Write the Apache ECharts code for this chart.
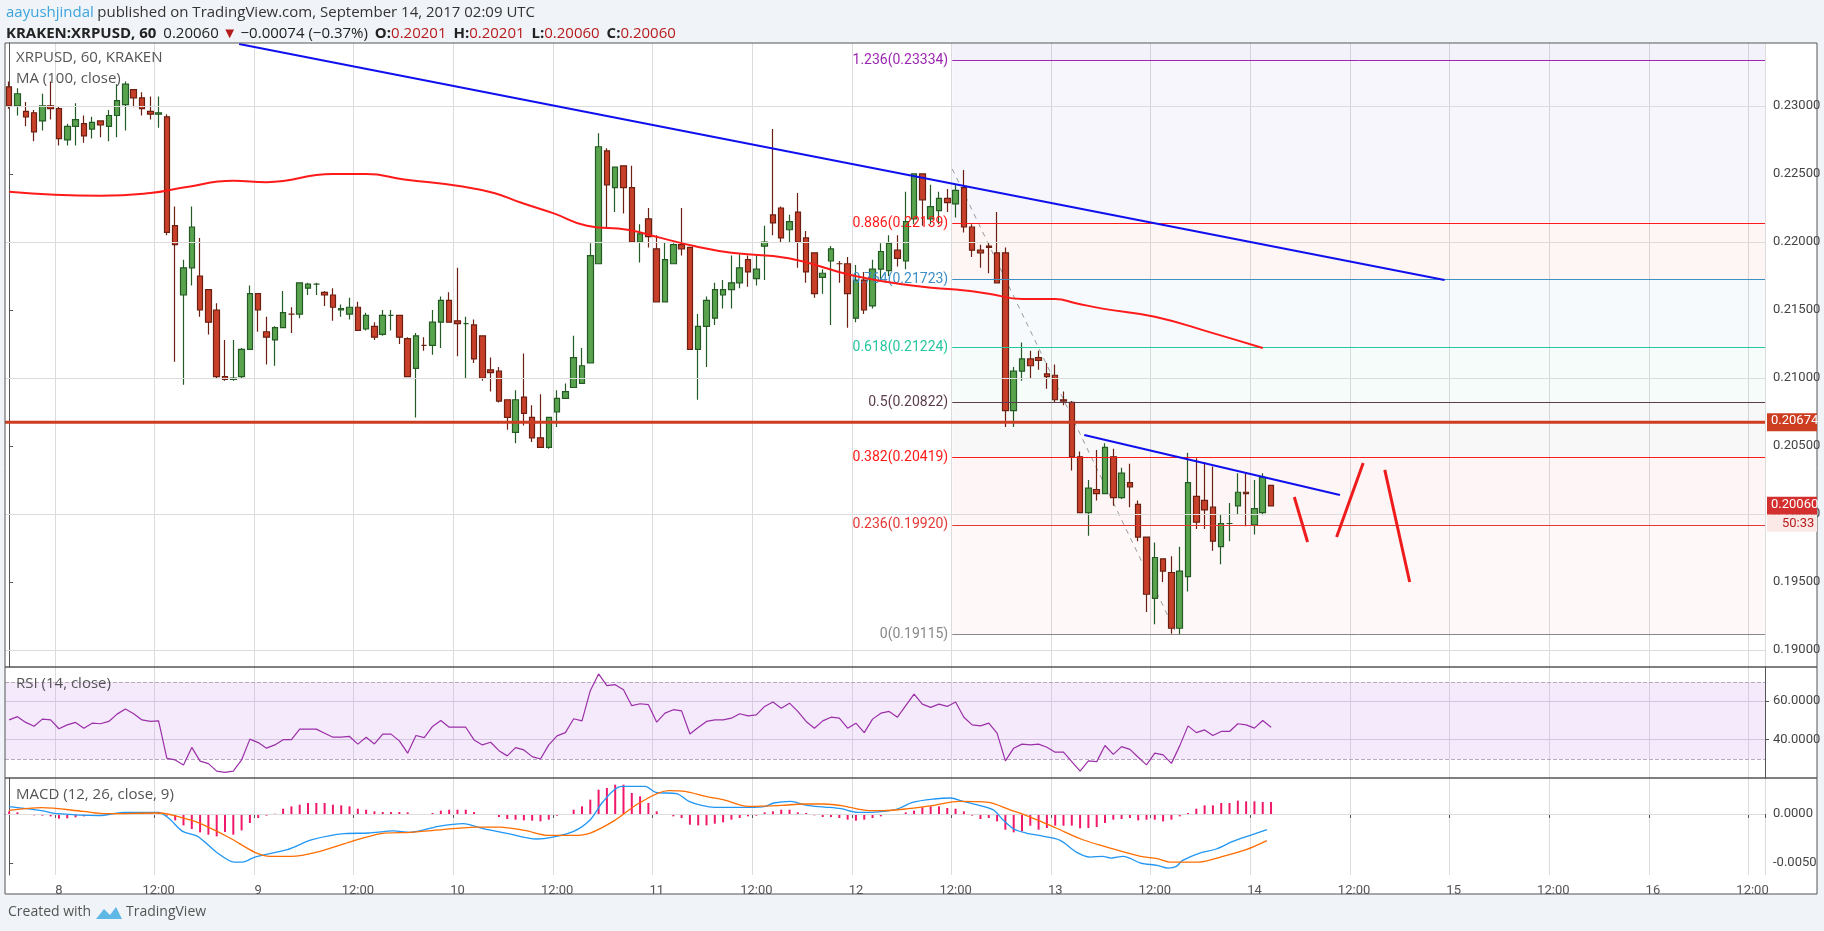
<!DOCTYPE html>
<html><head><meta charset="utf-8">
<script src="https://cdn.jsdelivr.net/npm/echarts@6/dist/echarts.min.js"></script>
<style>html,body{margin:0;padding:0;background:#f0f3f7}#c{width:1824px;height:931px}</style>
</head><body><div id="c"></div>
<script>
// ---- DATA ----
const startDay = 7, startHour = 18, hourCount = 212;
// candles: [open, close, low, high] hourly from Sep 7 18:00
const candles = [
[.2314,.2300,.2298,.2318],[.2300,.2309,.2293,.2313],[.2296,.2292,.2285,.2303],[.2295,.2281,.2274,.2297],[.2289,.2300,.2282,.2309],
[.2300,.2298,.2290,.2318],[.2298,.2276,.2271,.2300],[.2275,.2285,.2271,.2287],[.2285,.2290,.2271,.2302],[.2287,.2278,.2273,.2293],
[.2283,.2288,.2276,.2292],[.2289,.2286,.2277,.2289],[.2285,.2293,.2274,.2297],[.2293,.2304,.2277,.2316],[.2301,.2316,.2282,.2318],
[.2312,.2306,.2299,.2312],[.2306,.2298,.2293,.2310],[.2296,.2294,.2290,.2307],[.2294,.2295,.2284,.2307],[.2292,.2207,.2205,.2294],
[.2212,.2198,.2112,.2226],[.2161,.2181,.2095,.2187],[.2181,.2211,.2168,.2226],[.2175,.2150,.2145,.2203],[.2165,.2141,.2132,.2165],
[.2150,.2101,.2100,.2155],[.2101,.2099,.2098,.2128],[.2099,.2100,.2098,.2128],[.2101,.2121,.2100,.2122],[.2121,.2162,.2121,.2168],
[.2162,.2150,.2134,.2162],[.2134,.2130,.2110,.2145],[.2128,.2137,.2109,.2138],[.2137,.2148,.2137,.2164],[.2147,.2147,.2133,.2152],
[.2147,.2170,.2144,.2170],[.2166,.2169,.2161,.2170],[.2169,.2169,.2161,.2170],[.2163,.2161,.2153,.2164],[.2161,.2152,.2142,.2166],
[.2150,.2151,.2145,.2154],[.2147,.2152,.2143,.2159],[.2152,.2135,.2135,.2156],[.2136,.2146,.2135,.2148],[.2138,.2130,.2128,.2141],
[.2132,.2146,.2131,.2150],[.2146,.2146,.2135,.2150],[.2146,.2130,.2125,.2146],[.2129,.2101,.2101,.2130],[.2107,.2131,.2071,.2133],
[.2124,.2124,.2120,.2130],[.2124,.2141,.2117,.2150],[.2141,.2157,.2122,.2160],[.2157,.2141,.2141,.2163],[.2142,.2140,.2116,.2181],
[.2140,.2140,.2100,.2145],[.2139,.2114,.2111,.2143],[.2131,.2100,.2098,.2131],[.2106,.2104,.2090,.2115],[.2105,.2083,.2082,.2108],
[.2084,.2071,.2062,.2084],[.2060,.2084,.2052,.2091],[.2086,.2074,.2065,.2118],[.2071,.2056,.2053,.2080],[.2056,.2049,.2049,.2088],
[.2049,.2071,.2048,.2071],[.2075,.2085,.2064,.2091],[.2085,.2090,.2085,.2096],[.2093,.2115,.2093,.2131],[.2096,.2109,.2096,.2122],
[.2111,.2190,.2111,.2199],[.2184,.2270,.2184,.2280],[.2267,.2242,.2210,.2269],[.2240,.2255,.2222,.2255],[.2256,.2240,.2221,.2256],
[.2240,.2200,.2200,.2256],[.2200,.2206,.2185,.2213],[.2217,.2204,.2196,.2225],[.2195,.2156,.2156,.2205],[.2156,.2187,.2156,.2200],
[.2184,.2198,.2184,.2199],[.2198,.2195,.2190,.2225],[.2196,.2121,.2121,.2196],[.2121,.2138,.2084,.2147],[.2138,.2157,.2108,.2160],
[.2144,.2165,.2139,.2170],[.2161,.2165,.2151,.2172],[.2165,.2170,.2151,.2190],[.2170,.2181,.2166,.2191],[.2187,.2178,.2167,.2190],
[.2173,.2180,.2168,.2190],[.2197,.2200,.2172,.2212],[.2220,.2214,.2205,.2283],[.2225,.2203,.2200,.2226],[.2209,.2215,.2200,.2220],
[.2222,.2200,.2181,.2236],[.2203,.2178,.2170,.2208],[.2192,.2162,.2159,.2192],[.2174,.2177,.2162,.2180],[.2186,.2195,.2139,.2197],
[.2184,.2184,.2170,.2186],[.2184,.2162,.2137,.2189],[.2144,.2172,.2141,.2183],[.2172,.2150,.2147,.2178],[.2153,.2180,.2151,.2187],
[.2180,.2193,.2172,.2199],[.2179,.2199,.2175,.2205],[.2194,.2188,.2182,.2205],[.2186,.2215,.2180,.2237],[.2217,.2250,.2213,.2250],
[.2250,.2231,.2212,.2250],[.2217,.2226,.2213,.2242],[.2223,.2232,.2213,.2237],[.2232,.2229,.2222,.2239],[.2228,.2238,.2218,.2242],
[.2240,.2211,.2207,.2253],[.2211,.2194,.2189,.2213],[.2194,.2192,.2181,.2198],[.2197,.2196,.2177,.2200],[.2192,.2170,.2170,.2222],
[.2192,.2076,.2064,.2196],[.2076,.2105,.2064,.2108],[.2105,.2114,.2098,.2126],[.2114,.2109,.2100,.2120],[.2115,.2113,.2106,.2120],
[.2103,.2101,.2092,.2111],[.2102,.2084,.2082,.2110],[.2084,.2083,.2080,.2090],[.2082,.2042,.2032,.2083],[.2042,.2001,.2001,.2046],
[.2001,.2019,.1984,.2025],[.2018,.2015,.2010,.2047],[.2015,.2049,.2015,.2052],[.2042,.2012,.2006,.2048],[.2012,.2030,.2011,.2034],
[.2023,.2020,.2005,.2037],[.2007,.1983,.1980,.2010],[.1983,.1941,.1928,.1983],[.1938,.1968,.1919,.1979],[.1967,.1958,.1950,.1967],
[.1957,.1916,.1912,.1969],[.1916,.1958,.1911,.1976],[.1954,.2023,.1943,.2045],[.2013,.1994,.1989,.2041],[.2010,.2003,.1989,.2038],
[.2005,.1980,.1973,.2035],[.1976,.1993,.1963,.2000],[.1993,.1993,.1980,.2008],[.2006,.2016,.2000,.2030],[.2016,.2015,.1991,.2030],
[.1992,.2004,.1985,.2025],[.2001,.2027,.1999,.2030],[.2021,.2006,.2006,.2021]
];
// MA(100) read points [hourIndex, value]
const maPoints = [[0,.2237],[11,.2234],[17,.2236],[21,.2240],[27,.2245],[31,.2244],[39,.2250],[43,.2250],[47.6,.2246],[54.4,.2241],[58.4,.2236],[61.6,.2229],[65.6,.2221],[69.6,.2212],[74.5,.2209],[78.5,.2203],[82.5,.2197],[87,.2192],[93.9,.2188],[101.9,.2175],[110,.2167],[114,.2165],[118,.2162],[122,.2158],[126,.2158],[128.5,.2155],[131.7,.2151],[138,.2145],[145,.2133],[151,.2122]];
const rsi = [50.3,52,49,47,50.7,50.3,45.7,47.7,49,46,48.6,48.3,49.5,53.3,56,53.5,50.3,49.5,49.8,30.3,29.5,26.9,36,28.9,27.6,23.7,23,23.7,29.5,40.3,38.5,35.6,37.3,40,40,45.5,45.5,45.5,43.4,41.3,41.3,41.7,37.7,41.3,37.8,42.9,42.9,39.4,33,42.2,41.1,46.9,50,46.5,46.5,46.5,39.9,37.3,38.7,34.3,31.6,35.9,34.7,31.2,30,37.3,42,43.7,50.9,49.8,65.5,74.2,68.1,68.6,66,
57.7,58.7,58.2,49.1,53.8,55.6,55,43,46.3,49.5,50.3,50.3,51.2,53.5,52.4,52.9,57.3,59.6,56.4,59,54.7,49.5,46,49.8,51.7,51.2,46,48.6,43.7,50.7,53.8,54.7,51.7,57.7,63.7,58.5,56.8,58.5,57.3,59.6,51.7,47.7,47.2,48.6,43.4,29,35.6,37.7,37.3,37.7,36.1,33.5,33.5,28.6,23.7,29,28.6,37,32.4,36.4,35,30.9,26.9,33,32.1,27.7,36.8,47.2,43.7,45.1,42.2,44.3,44.3,48.3,47.7,46,50,46.5];
const macdPoints = [[0,.00075],[3.9,.00034],[5.9,.00003],[10.8,-.00017],[13.8,.00017],[18,.00017],[19.2,-.00041],[20.9,-.00177],[22.7,-.00228],[25.1,-.00398],[27.1,-.0049],[28.1,-.0049],[29.6,-.00439],[33.5,-.00364],[36.5,-.00262],[40.4,-.002],[43.3,-.00194],[46.3,-.00173],[48.3,-.00187],[51.7,-.00126],[54.7,-.00099],[57.1,-.0015],[60.1,-.002],[63.5,-.00255],[65.5,-.00235],[68,-.00177],[70,-.00058],[71.4,.00112],[72.9,.00248],[73.8,.00282],[76.6,.00282],[77.9,.00221],[80.4,.00207],[81.9,.00129],[83.4,.00088],[85,.00068],[89,.00068],[91.1,.00078],[92.1,.00112],[94.1,.00129],[96.1,.00088],[98.2,.00071],[100.2,.00054],[102.2,.00017],[104.3,.0002],[106.3,.00037],[107.3,.00061],[108.8,.00119],[111.4,.00153],[113.4,.00163],[114.9,.00129],[116.5,.00095],[118.5,.00044],[119.7,-.00058],[121,-.00153],[122.5,-.00194],[124.6,-.00228],[126.6,-.00269],[128.6,-.00391],[130.2,-.00439],[131.7,-.00432],[132.7,-.00449],[134.2,-.00432],[136.3,-.005],[138.3,-.00524],[139.6,-.00551],[140.6,-.00534],[141.3,-.00476],[143.4,-.00398],[145.4,-.00357],[147.4,-.00279],[149.5,-.00218],[151.5,-.0016]];
const signalPoints = [[0,.00037],[3.9,.00065],[8.9,.00027],[11.8,.00003],[18,.0001],[21.7,-.00058],[23.6,-.00119],[26.6,-.00245],[29.6,-.00391],[31.5,-.00432],[34,-.00432],[37.4,-.00381],[40.9,-.00289],[44.8,-.002],[48.3,-.00187],[52.2,-.0016],[56.2,-.00133],[59.1,-.00133],[62.1,-.00167],[65,-.00218],[68,-.00218],[70,-.00194],[72.9,-.00068],[75.9,.00112],[79.4,.00238],[81.4,.00231],[83.9,.0018],[86,.00146],[89,.00078],[93.1,.00088],[95.6,.00102],[98.2,.00102],[100.7,.00078],[103.3,.00037],[105.3,.00034],[108.3,.00054],[111.4,.00088],[114.4,.00129],[118,.00119],[120.5,.00044],[123,-.00031],[126.1,-.00143],[129.1,-.00255],[131.2,-.00313],[133.7,-.00374],[136.3,-.00432],[138.3,-.00456],[139.8,-.0049],[143.4,-.0049],[145.9,-.00439],[149,-.00364],[151.5,-.00272]];
const hist = [.00027,.00017,-.00007,-.00014,-.00017,-.00024,-.00048,-.00044,-.00034,-.00024,-.00014,-.00007,0,.00003,.00017,.00017,.00017,.00017,.0001,-.00017,-.00065,-.00116,-.00153,-.00187,-.00211,-.00228,-.00184,-.00211,-.00167,-.00092,-.00041,-.00017,.00003,.00054,.00078,.00095,.00112,.00112,.00112,.00095,.00088,.00078,.00054,.00044,.00027,.0002,.0002,.0002,.00017,0,0,.0001,.00034,.00044,.00044,.00044,.0002,0,-.00007,-.00031,-.00051,-.00058,-.00065,-.00068,-.00075,-.00058,-.00017,0,.00044,.00078,.00146,.00248,.00265,.00299,.00299,
.00214,.0018,.00112,.00027,-.00007,-.00024,-.00041,-.00109,-.00116,-.00116,-.00099,-.00085,-.00058,-.00041,-.00024,-.00017,.00017,.00027,.00044,.00044,.00017,.0001,-.00014,-.00031,-.00031,-.00041,-.00058,-.00068,-.00058,-.00041,-.00024,-.00007,-.00007,.00017,.00034,.00068,.00078,.00078,.00061,.00054,.00027,-.00017,-.00051,-.00041,-.00075,-.0016,-.00187,-.00177,-.00119,-.0016,-.00143,-.00119,-.00119,-.00119,-.00146,-.00143,-.00133,-.00092,-.00058,-.00051,-.00041,-.00065,-.00058,-.00058,-.00075,-.00058,-.00024,.0001,.00054,.00088,.00088,.00112,.00112,.00136,.00129,.00129,.00122,.00122];
const fibStart = 113.6;
const fibLevels = [['1.236',.23334,'#9c27b0'],['0.886',.22139,'#ff1a1a'],['0.764',.21723,'#3d8fc6'],['0.618',.21224,'#26c6a0'],['0.5',.20822,'#5d3d4d'],['0.382',.20419,'#ff1a1a'],['0.236',.19920,'#e53935'],['0',.19115,'#888888']];
const fibFills = ['rgba(120,100,200,0.06)','rgba(240,80,80,0.06)','rgba(80,160,210,0.05)','rgba(60,200,160,0.05)','rgba(120,120,120,0.05)','rgba(240,80,80,0.05)','rgba(240,80,80,0.04)'];
const supportLevel = 0.20674;
const lastPrice = 0.20060;
const trendMain = [[27.7,.23456],[172.9,.21721]];
const trendMinor = [[129.5,.20581],[160.3,.2014]];
const fibDiagonal = [[113.6,.22537],[140.4,.19147]];
const handLines = [[[154.8,.20125],[156.4,.19794]],[[159.9,.19831],[163.1,.20375]],[[165.7,.20324],[168.7,.19500]]];
const priceTicks = [0.19,0.195,0.20,0.205,0.21,0.215,0.22,0.225,0.23];

// ---- CHART ----
const cats = [];
for (let i=0;i<hourCount;i++) cats.push(i);
const isTick = i => (startHour+i)%12===0;
const lbl = i => { const h=(startHour+i)%24; const d=startDay+Math.floor((startHour+i)/24); return h===0? String(d): (h===12?'12:00':''); };
const gridLine = {show:true, interval:(i)=>isTick(i), lineStyle:{color:'#dcdcdc',width:1}};
const L=5, R=1824-1765;
const catAxis = (g, showLabels) => ({type:'category', gridIndex:g, data:cats, boundaryGap:true,
  axisLine:{show:showLabels, lineStyle:{color:'#555'}}, axisTick:{show:showLabels, interval:(i)=>isTick(i), length:4, lineStyle:{color:'#555'}},
  axisLabel:{show:showLabels, interval:(i)=>isTick(i), formatter:(v)=>lbl(+v), color:'#555', fontSize:13, fontFamily:'Roboto', margin:9},
  splitLine:gridLine});
const valX = g => ({type:'value', gridIndex:g, min:-0.5, max:hourCount-0.5, show:false});

const hLines = (vals, color, type) => vals.map(v=>({yAxis:v, lineStyle:{color:color, type:type||'solid', width:1}}));

const fibMark = fibLevels.map(([k,v,c])=>[{coord:[fibStart,v], lineStyle:{color:c,width:1,type:'solid'},
  label:{show:true, position:'start', formatter:k+'('+v.toFixed(5)+')', color:c, fontSize:14, fontFamily:'Roboto', distance:4}},{coord:[hourCount-0.5,v]}]);
const fibArea = [];
for (let i=0;i<fibLevels.length-1;i++) fibArea.push([{coord:[fibStart,fibLevels[i][1]], itemStyle:{color:fibFills[i]}},{coord:[hourCount-0.5,fibLevels[i+1][1]]}]);
fibArea.unshift([{coord:[fibStart,0.2346], itemStyle:{color:'rgba(120,100,200,0.09)'}},{coord:[hourCount-0.5,fibLevels[0][1]]}]);

const lineSeries = (pts, color, w, x, y, extra) => Object.assign({type:'line', xAxisIndex:x, yAxisIndex:y, data:pts, symbol:'none', silent:true,
  lineStyle:{color:color, width:w}, z:6}, extra||{});

const option = {
  backgroundColor:'#f0f3f7', animation:false,
  textStyle:{fontFamily:'Roboto'},
  grid:[
    {left:L, right:R, top:43, height:624, show:true, backgroundColor:'#fff', borderWidth:0},
    {left:L, right:R, top:667, height:111, show:true, backgroundColor:'#fff', borderWidth:0},
    {left:L, right:R, top:778, height:97, show:true, backgroundColor:'#fff', borderWidth:0}
  ],
  xAxis:[catAxis(0,false), valX(0), catAxis(1,false), catAxis(2,true), valX(2)],
  yAxis:[
    {type:'value', gridIndex:0, position:'right', min:0.18875, max:0.23463, splitLine:{show:false},
     axisLine:{show:true, lineStyle:{color:'#555'}}, axisTick:{show:true, length:4, customValues:priceTicks},
     axisLabel:{customValues:priceTicks, formatter:v=>v.toFixed(5), color:'#444', fontSize:13, margin:8}},
    {type:'value', gridIndex:1, position:'right', min:20.1, max:77.8, splitLine:{show:false},
     axisLine:{show:true, lineStyle:{color:'#555'}}, axisTick:{show:true, length:4, customValues:[40,60]},
     axisLabel:{customValues:[40,60], formatter:v=>v.toFixed(4), color:'#444', fontSize:13, margin:8}},
    {type:'value', gridIndex:2, position:'right', min:-0.00622, max:0.00367, splitLine:{show:false},
     axisLine:{show:true, lineStyle:{color:'#555'}}, axisTick:{show:true, length:4, customValues:[-0.005,0]},
     axisLabel:{customValues:[-0.005,0], formatter:v=>v.toFixed(4), color:'#444', fontSize:13, margin:8}}
  ],
  series:[
    {type:'line', xAxisIndex:1, yAxisIndex:0, data:[], z:0, silent:true,
     markLine:{silent:true, symbol:'none', animation:false, label:{show:false}, data:hLines(priceTicks,'#dcdcdc')}},
    {type:'line', xAxisIndex:1, yAxisIndex:0, data:fibDiagonal, z:1, symbol:'none', silent:true,
     lineStyle:{color:'#9a9a9a', type:[5,5], width:1},
     markArea:{silent:true, data:fibArea},
     markLine:{silent:true, symbol:'none', animation:false, lineStyle:{type:'solid'}, data:fibMark}},
    {type:'candlestick', xAxisIndex:0, yAxisIndex:0, data:candles, barWidth:6, z:4,
     itemStyle:{color:'#5aa34e', color0:'#c8402a', borderColor:'#245a24', borderColor0:'#6b2012', borderWidth:1.2}},
    lineSeries(maPoints,'#ff1a1a',2,1,0,{smooth:true}),
    lineSeries([[-0.5,supportLevel],[hourCount-0.5,supportLevel]],'#cc3d22',3,1,0),
    lineSeries(trendMain,'#1010ee',2,1,0),
    lineSeries(trendMinor,'#1010ee',2,1,0),
    ...handLines.map(h=>lineSeries(h,'#ee1c1c',3,1,0)),
    {type:'line', xAxisIndex:2, yAxisIndex:1, data:[], z:0, silent:true,
     markArea:{silent:true, data:[[{yAxis:70, itemStyle:{color:'rgba(206,147,240,0.2)'}},{yAxis:30}]]},
     markLine:{silent:true, symbol:'none', label:{show:false}, data:hLines([60,40],'#d6c4e0').concat(hLines([70,30],'#b8a8c0','dashed'))}},
    {type:'line', xAxisIndex:2, yAxisIndex:1, data:rsi, symbol:'none', silent:true, lineStyle:{color:'#9b2fa8', width:1.2}, z:5},
    {type:'bar', xAxisIndex:3, yAxisIndex:2, data:hist, barWidth:2, itemStyle:{color:'#f0186a'}, silent:true, z:3,
     markLine:{silent:true, symbol:'none', label:{show:false}, data:hLines([0,-0.005],'#dcdcdc')}},
    lineSeries(macdPoints,'#2196f3',1.3,4,2,{smooth:0.3}),
    lineSeries(signalPoints,'#ff6d00',1.3,4,2,{smooth:0.3})
  ]
};
const chart = echarts.init(document.getElementById('c'));
chart.setOption(option);

const yS = chart.convertToPixel({yAxisIndex:0}, supportLevel);
const yP = chart.convertToPixel({yAxisIndex:0}, lastPrice);
const txt = (x,y,t,st)=>({type:'text', x:x, y:y, silent:true, style:Object.assign({text:t, fill:'#333', font:'14px Roboto'},st||{})});
chart.setOption({graphic:[
  {type:'rect', silent:true, z:-1, shape:{x:1765,y:43,width:52,height:851}, style:{fill:'#fff'}},
  {type:'rect', silent:true, z:-1, shape:{x:5,y:875,width:1760,height:19}, style:{fill:'#fff'}},
  {type:'rect', silent:true, z:100, shape:{x:5,y:43,width:1812,height:851}, style:{fill:'none', stroke:'#555', lineWidth:1}},
  {type:'line', silent:true, z:100, shape:{x1:5,y1:667,x2:1817,y2:667}, style:{stroke:'#555', lineWidth:1.5}},
  {type:'line', silent:true, z:100, shape:{x1:5,y1:778,x2:1817,y2:778}, style:{stroke:'#555', lineWidth:1.5}},
  txt(6,5,'',{text:'{a|aayushjindal} {b|published on TradingView.com, September 14, 2017 02:09 UTC}',
     rich:{a:{fill:'#3ba5dc', font:'15px "Open Sans"'}, b:{fill:'#333', font:'15px "Open Sans"'}}}),
  txt(6,26,'',{text:'{k|KRAKEN:XRPUSD, 60}  {n|0.20060} {r|▼} {n|−0.00074 (−0.37%)}  {k|O:}{v|0.20201}  {k|H:}{v|0.20201}  {k|L:}{v|0.20060}  {k|C:}{v|0.20060}',
     rich:{k:{fill:'#222', font:'bold 15px "Open Sans"'}, n:{fill:'#222', font:'15px "Open Sans"'}, r:{fill:'#b71c1c', font:'15px "Open Sans"'}, v:{fill:'#b71c1c', font:'15px "Open Sans"'}}}),
  txt(16,50,'XRPUSD, 60, KRAKEN',{fill:'#555', font:'15px "Open Sans"'}),
  txt(16,71,'MA (100, close)',{fill:'#555', font:'15px "Open Sans"'}),
  txt(16,676,'RSI (14, close)',{fill:'#555', font:'15px "Open Sans"'}),
  txt(16,787,'MACD (12, 26, close, 9)',{fill:'#555', font:'15px "Open Sans"'}),
  {type:'rect', silent:true, z:101, shape:{x:1767,y:yS-9,width:50,height:18}, style:{fill:'#cc3d22'}},
  txt(1771,yS-8,'0.20674',{fill:'#fff', font:'13px Roboto'}),
  {type:'rect', silent:true, z:101, shape:{x:1767,y:yP-9,width:50,height:18}, style:{fill:'#d32f2f'}},
  txt(1771,yP-8,'0.20060',{fill:'#fff', font:'13px Roboto'}),
  {type:'rect', silent:true, z:101, shape:{x:1767,y:yP+9,width:50,height:17}, style:{fill:'#fbe9e7'}},
  txt(1782,yP+11,'50:33',{fill:'#b71c1c', font:'13px Roboto'}),
  txt(8,905,'Created with',{fill:'#555', font:'14px "Open Sans"'}),
  {type:'polygon', silent:true, shape:{points:[[96,919],[104,909],[110,915],[116,907],[122,919]]}, style:{fill:'#5fb7e6'}},
  txt(126,905,'TradingView',{fill:'#555', font:'14px "Open Sans"'})
].map(g=>{ if(g.z===undefined) g.z=102; return g;})});
</script></body></html>
